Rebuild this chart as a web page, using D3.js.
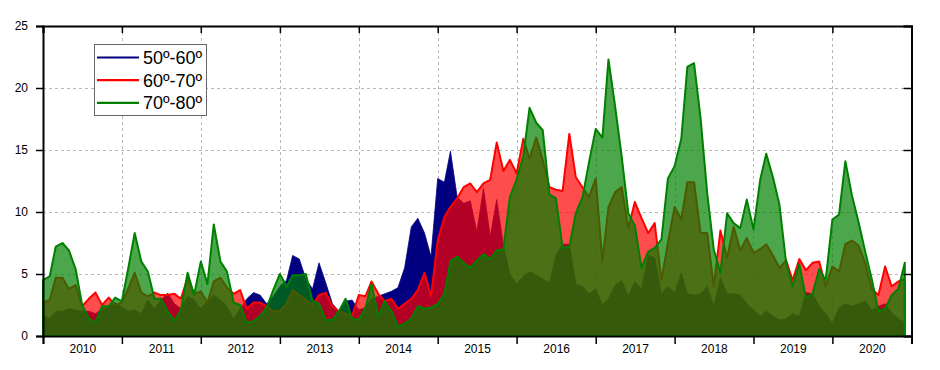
<!DOCTYPE html>
<html><head><meta charset="utf-8">
<script src="https://cdn.jsdelivr.net/npm/d3@7"></script>
<style>
body{margin:0;background:#fff;}
svg{display:block;font-family:"Liberation Sans",Arial,sans-serif;}
</style>
</head><body>
<svg id="chart" width="940" height="370"></svg>
<script>
// ---- data (monthly values, Jan 2010 .. Dec 2020) ----
const years = [2010,2011,2012,2013,2014,2015,2016,2017,2018,2019,2020];
const seriesNames = ["50º-60º","60º-70º","70º-80º"];
const yTicks = [0,5,10,15,20,25];

const lat50_60 = [
  1.7,1.4,2.0,2.0,2.2,2.1,2.0,2.0,1.8,2.2,2.3,2.7,
  2.3,2.0,2.1,1.8,2.9,2.2,2.9,3.45,2.6,2.2,3.2,2.9,
  2.2,2.8,3.3,2.9,2.4,1.4,2.2,3.0,3.5,3.3,2.6,3.2,
  4.0,4.5,6.5,6.2,4.6,3.8,5.9,4.3,2.6,2.0,2.8,2.9,
  2.1,2.3,3.0,3.2,3.4,3.6,3.9,5.5,8.8,9.5,8.3,6.4,
  12.7,12.4,14.9,11.2,10.7,10.9,8.4,11.9,8.0,11.0,7.3,5.0,
  4.2,4.8,5.2,4.9,4.6,4.3,6.5,7.4,7.4,4.2,4.0,3.4,
  3.8,2.5,3.0,4.1,4.5,3.2,4.4,3.8,6.5,6.3,3.4,4.0,
  3.5,5.1,3.4,3.3,3.4,4.0,2.4,4.7,3.4,3.4,3.3,2.6,
  2.1,1.6,2.0,1.6,1.3,1.4,1.8,1.6,3.5,3.4,2.4,1.8,
  1.0,2.3,2.6,2.4,2.6,2.8,2.1,2.4,2.6,1.9,1.4,1.1
];
const lat60_70 = [
  2.7,2.9,4.7,4.7,3.8,4.1,2.4,3.0,3.5,2.5,3.1,2.5,
  2.7,3.9,5.1,3.5,3.2,3.5,3.3,3.3,3.4,3.0,4.7,3.4,
  3.6,2.7,4.4,4.7,3.9,3.4,3.7,2.2,2.7,2.7,2.4,2.0,
  2.0,2.6,3.7,3.3,2.9,2.5,3.3,3.5,2.4,2.0,1.8,1.6,
  3.3,3.2,4.4,3.4,2.8,3.0,2.2,2.6,3.0,3.7,5.1,3.2,
  7.7,9.6,10.4,11.1,12.0,12.3,11.6,12.3,12.6,15.6,13.3,14.2,
  13.1,15.9,14.3,16.0,14.2,12.0,11.8,11.7,16.3,12.8,12.0,11.2,
  12.7,6.0,10.4,11.6,12.0,8.7,10.8,9.5,8.3,9.1,4.5,7.5,
  10.4,9.4,12.4,12.4,8.3,8.3,4.0,8.5,6.3,8.8,6.9,7.9,
  6.7,7.0,7.4,6.5,5.5,6.1,4.5,6.2,5.3,5.9,6.0,4.0,
  5.6,5.2,7.4,7.7,7.3,5.9,3.8,3.3,5.6,4.0,4.4,4.6
];
const lat70_80 = [
  4.5,4.8,7.2,7.5,6.9,5.4,2.5,1.4,1.1,2.4,2.4,3.1,
  2.8,5.6,8.3,6.0,5.2,3.0,3.0,2.0,1.2,2.1,5.1,3.3,
  6.0,4.2,9.0,6.0,5.2,2.7,2.5,1.1,1.2,1.6,2.3,3.7,
  5.0,4.0,4.9,4.9,5.0,2.8,2.6,1.3,1.3,2.0,3.0,1.4,
  1.3,2.3,4.2,1.6,2.8,2.0,0.8,1.0,1.4,2.4,2.2,2.3,
  2.6,3.4,6.0,6.4,5.9,5.5,6.1,6.6,6.2,6.9,7.0,11.2,
  12.6,14.5,18.4,17.2,16.6,11.4,11.1,7.1,7.2,9.9,11.2,14.0,
  16.7,16.0,22.3,18.5,14.5,9.9,8.9,5.5,6.8,7.1,7.8,12.7,
  13.7,15.9,21.7,22.0,17.6,11.5,7.0,5.1,9.9,9.1,8.7,11.0,
  8.6,12.6,14.7,12.8,10.6,5.9,4.0,5.8,3.1,3.4,5.4,4.5,
  9.4,9.8,14.1,11.3,9.2,6.8,4.6,2.0,2.2,3.3,3.8,5.9
];
const seriesColors = ["#000080","#ff0000","#008000"];
const seriesOpacity = [1, 0.7, 0.7];

// ---- layout ----
const L = 43, R = 911.5, T = 26, B = 336;
const svg = d3.select("#chart");
const months = d3.timeMonth.range(new Date(2010,0,1), new Date(2021,0,1));
const x = d3.scaleTime().domain([new Date(2010,0,1), new Date(2021,0,1)]).range([L, R]);
const y = d3.scaleLinear().domain([0,25]).range([B, T]);
const yearStarts = d3.range(years[0], years[years.length-1]+2).map(yr => new Date(yr,0,1));
const yearMids = years.map(yr => new Date(yr,6,2));

// grid
const grid = svg.append("g").attr("stroke","#b8b8b8").attr("stroke-width",1).attr("stroke-dasharray","3,3");
grid.selectAll("line.v").data(yearStarts.slice(1,-1)).join("line").attr("class","v")
  .attr("x1",d=>Math.round(x(d))+0.5).attr("x2",d=>Math.round(x(d))+0.5).attr("y1",T).attr("y2",B);
grid.selectAll("line.h").data(yTicks.slice(1,-1)).join("line").attr("class","h")
  .attr("x1",L).attr("x2",R).attr("y1",d=>Math.round(y(d))+0.5).attr("y2",d=>Math.round(y(d))+0.5);

// areas
const area = d3.area().x((d,i)=>x(months[i])).y0(y(0)).y1(d=>y(d));
const allSeries = [lat50_60, lat60_70, lat70_80];
allSeries.forEach((s,k)=>{
  svg.append("path").datum(s).attr("d",area)
    .attr("fill",seriesColors[k]).attr("fill-opacity",seriesOpacity[k])
    .attr("stroke",seriesColors[k]).attr("stroke-width",k===0?0.8:2)
    .attr("stroke-linejoin","round");
});

// axes
const ax = svg.append("g").attr("font-family",'"Liberation Sans",Arial,sans-serif');
const axLeft = ax.append("g").attr("transform",`translate(${L},0)`)
  .call(d3.axisLeft(y).tickValues(yTicks).tickSize(7).tickPadding(8));
const axRight = ax.append("g").attr("transform",`translate(${R},0)`)
  .call(d3.axisRight(y).tickValues(yTicks).tickSize(-8).tickFormat(""));
const axTop = ax.append("g").attr("transform",`translate(0,${T})`)
  .call(d3.axisTop(x).tickValues(yearStarts).tickSize(-7).tickFormat(""));
const axBottom = ax.append("g").attr("transform",`translate(0,${B})`)
  .call(d3.axisBottom(x).tickValues(yearStarts).tickSize(8).tickFormat(""));
const axLabels = ax.append("g").attr("transform",`translate(0,${B})`)
  .call(d3.axisBottom(x).tickValues(yearMids).tickSize(0).tickPadding(8.5).tickFormat(d3.timeFormat("%Y")));
axLabels.select(".domain").remove();
[axLeft,axRight,axTop,axBottom].forEach(g=>{
  g.select(".domain").attr("stroke","#000").attr("stroke-width",2);
  g.selectAll(".tick line").attr("stroke","#000").attr("stroke-width",1.5);
});
ax.selectAll(".tick text").attr("font-size",12).attr("fill","#000");
svg.selectAll(".domain").attr("fill","none");

// legend
const lg = svg.append("g");
lg.append("rect").attr("x",94.5).attr("y",44.5).attr("width",112).attr("height",71)
  .attr("fill","#fff").attr("stroke","#666").attr("stroke-width",1);
seriesNames.forEach((n,k)=>{
  const yy = 57.5 + k*22.7;
  lg.append("line").attr("x1",97).attr("x2",139).attr("y1",yy).attr("y2",yy)
    .attr("stroke",seriesColors[k]).attr("stroke-width",2.2);
  lg.append("text").attr("x",143).attr("y",yy).attr("dy","0.36em")
    .attr("font-size",18).attr("fill","#000").text(n);
});
</script>
</body></html>
